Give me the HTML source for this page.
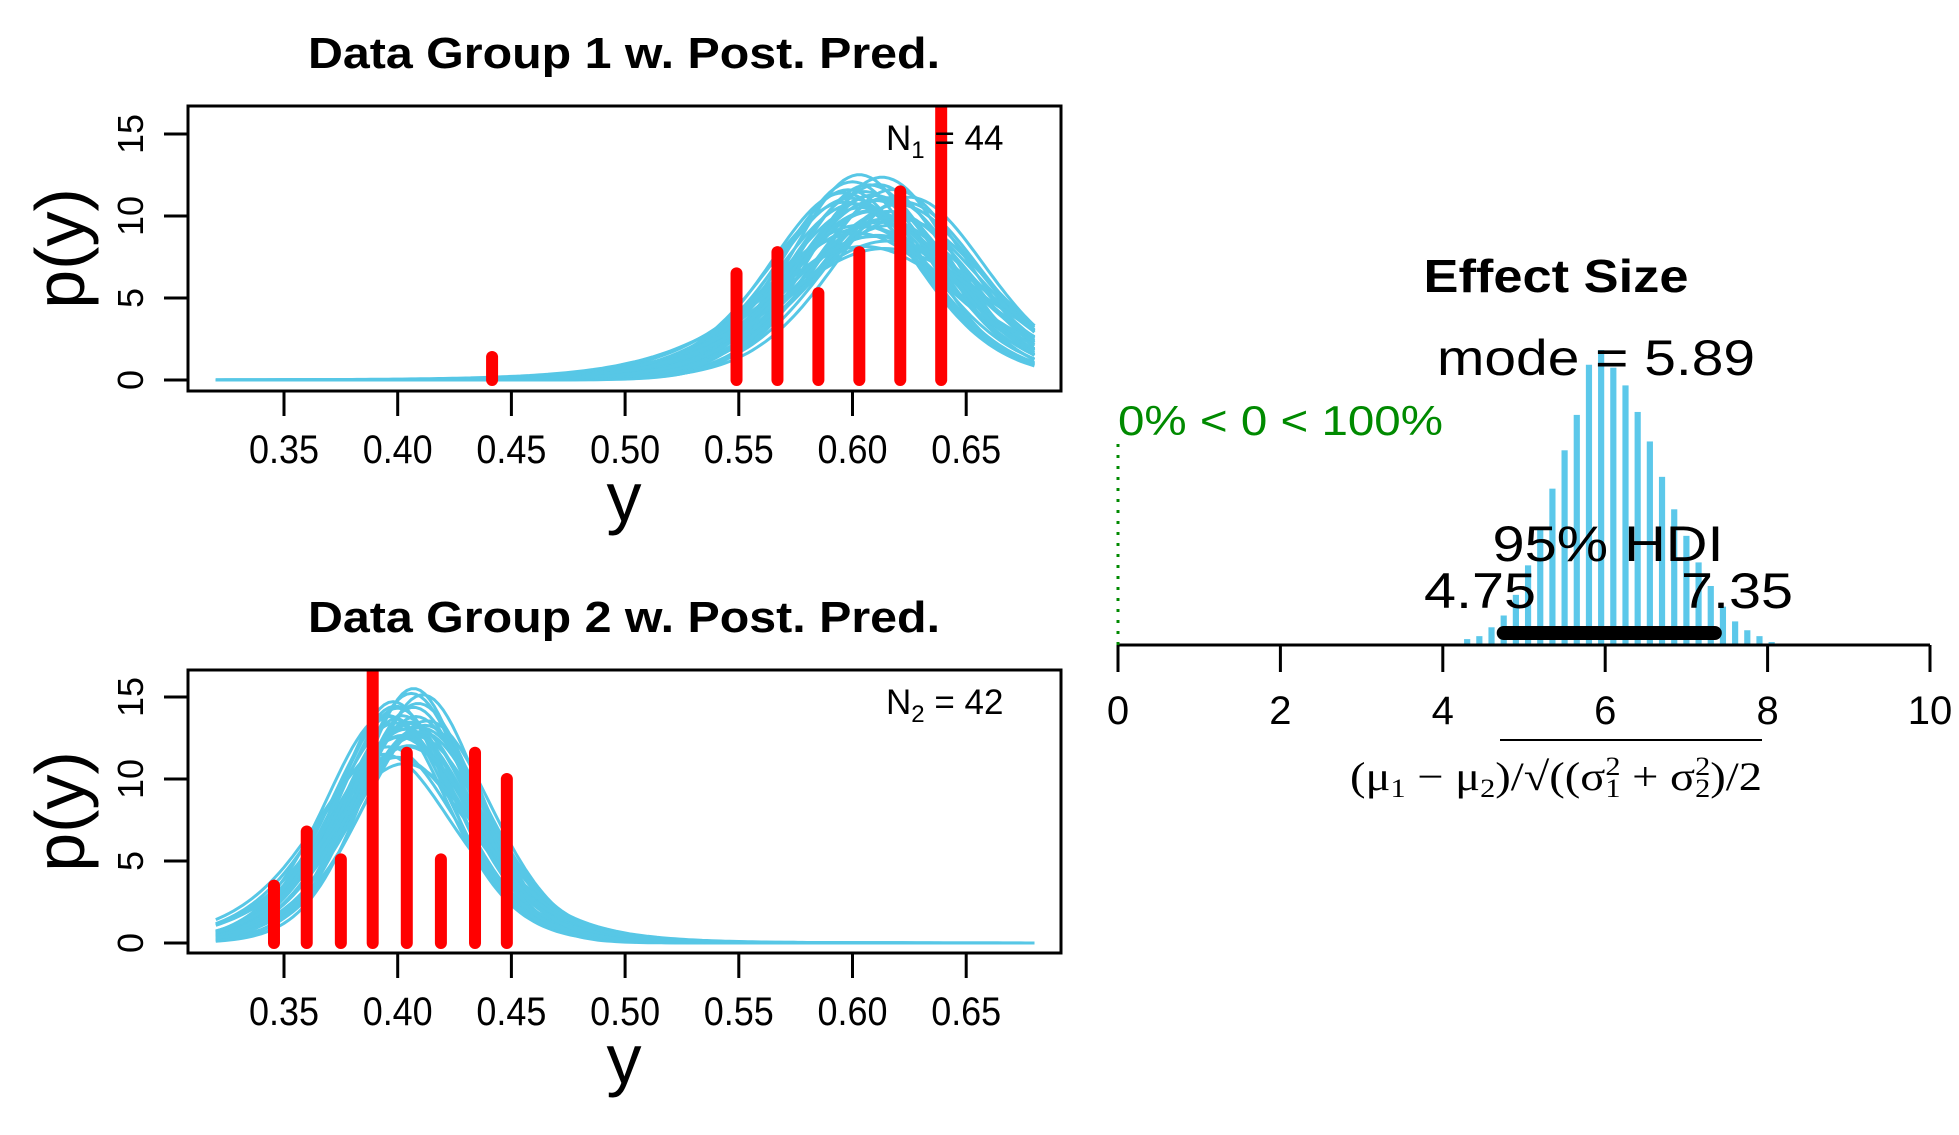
<!DOCTYPE html>
<html><head><meta charset="utf-8"><style>
html,body{margin:0;padding:0;background:#fff;}
svg{display:block;}
text{font-family:"Liberation Sans",sans-serif;fill:#000;}
</style></head><body>
<svg id="chart" width="1959" height="1135" viewBox="0 0 1959 1135" xmlns="http://www.w3.org/2000/svg">
<defs>
<clipPath id="clip1"><rect x="188" y="106" width="873" height="285"/></clipPath>
<clipPath id="clip2"><rect x="188" y="670" width="873" height="283"/></clipPath>
</defs>
<g id="p1"></g>
<g id="p2"></g>
<g id="p3"></g>
</svg>
<script>
// ---- data ----
const xTicks = [0.35,0.40,0.45,0.50,0.55,0.60,0.65];
const xTickLabels = ["0.35","0.40","0.45","0.50","0.55","0.60","0.65"];
const yTicks = [0,5,10,15];
const yTickLabels = ["0","5","10","15"];
const g1DataX = [0.4415,0.549,0.567,0.585,0.603,0.621,0.639];
const g1DataY = [1.4,6.5,7.8,5.3,7.8,11.5,17];
const g2DataX = [0.3456,0.360,0.375,0.389,0.404,0.419,0.434,0.448];
const g2DataY = [3.5,6.8,5.1,17,11.6,5.1,11.6,10];
const g1Mu = [0.600,0.605,0.610,0.598,0.615,0.620,0.603,0.608,0.612,0.618,0.625,0.601,0.606,0.611,0.596,0.614,0.609,0.604,0.622,0.617,0.607,0.613,0.599,0.616,0.610,0.602,0.619,0.605,0.611,0.597,0.614,0.621,0.608,0.603,0.616,0.609];
const g1Sd = [0.032,0.034,0.036,0.033,0.035,0.037,0.031,0.038,0.040,0.034,0.035,0.036,0.042,0.033,0.034,0.039,0.035,0.037,0.036,0.041,0.033,0.032,0.035,0.038,0.045,0.043,0.039,0.047,0.044,0.036,0.048,0.040,0.037,0.041,0.046,0.034];
const g1Nu = [8,12,20,6,10,30,9,15,7,25,11,8,14,18,9,6,22,10,13,8,16,30,9,12,20,7,10,6,9,12,7,15,5,8,11,6];
const g2Mu = [0.400,0.405,0.398,0.410,0.395,0.407,0.402,0.412,0.404,0.399,0.408,0.403,0.396,0.411,0.406,0.401,0.409,0.397,0.404,0.413,0.400,0.406,0.402,0.408,0.394,0.403,0.410,0.399,0.405,0.407];
const g2Sd = [0.027,0.029,0.026,0.030,0.028,0.025,0.031,0.029,0.033,0.027,0.028,0.030,0.032,0.026,0.029,0.031,0.027,0.028,0.030,0.029,0.034,0.026,0.028,0.031,0.033,0.035,0.030,0.029,0.032,0.027];
const g2Nu = [8,12,6,20,10,9,15,7,25,11,8,14,6,18,9,10,22,8,13,16,7,30,9,12,5,6,8,10,7,9];
const effBins = [4.30,4.45,4.60,4.75,4.90,5.05,5.20,5.35,5.50,5.65,5.80,5.95,6.10,6.25,6.40,6.55,6.70,6.85,7.00,7.15,7.30,7.45,7.60,7.75,7.90,8.05];
const effHeights = [0.02,0.03,0.06,0.10,0.17,0.27,0.40,0.53,0.66,0.78,0.95,1.0,0.94,0.88,0.79,0.69,0.57,0.46,0.37,0.28,0.20,0.13,0.08,0.05,0.03,0.01];
const effTicks = [0,2,4,6,8,10];
const effTickLabels = ["0","2","4","6","8","10"];
const hdiLow = 4.75, hdiHigh = 7.35, modeVal = 5.89;

const NS = "http://www.w3.org/2000/svg";
function mk(tag, attrs, parent, txt){
  const e = document.createElementNS(NS, tag);
  for (const k in attrs) e.setAttribute(k, attrs[k]);
  if (txt !== undefined) e.textContent = txt;
  parent.appendChild(e);
  return e;
}
function tpdf(x, mu, s, nu){
  const z = (x-mu)/s;
  return Math.pow(1 + z*z/nu, -(nu+1)/2);
}
function tnorm(s, nu){
  let sum = 0; const h = 0.01;
  for (let z=-60; z<=60; z+=h) sum += Math.pow(1+z*z/nu, -(nu+1)/2)*h;
  return 1/(sum*s);
}

function panel(gid, top, bottom, zeroY, title, titleY, mus, sds, nus, dx, dy, nLabel, nSub, clipId){
  const g = document.getElementById(gid);
  const left = 188, right = 1061;
  const X = v => 284 + (v-0.35)/0.05*113.7;
  const Y = v => zeroY - v*16.4;
  let t = mk('text',{x:624,y:titleY,'text-anchor':'middle','font-size':44,'font-weight':'bold',textLength:632,lengthAdjust:'spacingAndGlyphs'},g,title);
  
  
  const cg = mk('g',{'clip-path':'url(#'+clipId+')'},g);
  
  
  for (let i=0;i<mus.length;i++){
    const c = tnorm(sds[i], nus[i]);
    let d = '';
    for (let k=0;k<=180;k++){
      const x = 0.32 + k*0.002;
      d += (k?'L':'M') + X(x).toFixed(1) + ',' + Y(c*tpdf(x,mus[i],sds[i],nus[i])).toFixed(1);
    }
    const p = mk('path',{d:d,fill:'none',stroke:'#57c7e6','stroke-width':3},cg);
    
    
  }
  for (let i=0;i<dx.length;i++){
    const l = mk('line',{x1:X(dx[i]),x2:X(dx[i]),y1:Y(0),y2:Y(dy[i]),stroke:'#ff0000','stroke-width':12,'stroke-linecap':'round'},cg);
    
    
  }
  const box = mk('rect',{x:left,y:top,width:right-left,height:bottom-top,fill:'none',stroke:'#000','stroke-width':3},g);
  
  
  for (let i=0;i<xTicks.length;i++){
    const x = X(xTicks[i]);
    const tk = mk('line',{x1:x,x2:x,y1:bottom,y2:bottom+25,stroke:'#000','stroke-width':3},g);
    
    
    const tl = mk('text',{x:x,y:bottom+72,'text-anchor':'middle','font-size':40,textLength:70,lengthAdjust:'spacingAndGlyphs'},g,xTickLabels[i]);
    
    
  }
  for (let i=0;i<yTicks.length;i++){
    const y = Y(yTicks[i]);
    const tk = mk('line',{x1:left-24,x2:left,y1:y,y2:y,stroke:'#000','stroke-width':3},g);
    
    
    const tl = mk('text',{x:0,y:0,'text-anchor':'middle','font-size':36,transform:'translate(143,'+y+') rotate(-90)'},g,yTickLabels[i]);
    
    
  }
  const yl = mk('text',{x:0,y:0,'text-anchor':'middle','font-size':70,transform:'translate(84,'+((top+bottom)/2)+') rotate(-90)'},g,'p(y)');
  
  
  const xl = mk('text',{x:624,y:bottom+130,'text-anchor':'middle','font-size':70},g,'y');
  
  
  const nl = mk('text',{x:886,y:top+44,'font-size':35},g);
  
  
  mk('tspan',{},nl,'N');
  mk('tspan',{dy:8,'font-size':24},nl,nSub);
  mk('tspan',{dy:-8},nl,' = '+nLabel);
}
panel('p1',106,391,380,'Data Group 1 w. Post. Pred.',68,g1Mu,g1Sd,g1Nu,g1DataX,g1DataY,'44','1','clip1');
panel('p2',670,953,943,'Data Group 2 w. Post. Pred.',632,g2Mu,g2Sd,g2Nu,g2DataX,g2DataY,'42','2','clip2');

// effect size panel
(function(){
  const g = document.getElementById('p3');
  const X = v => 1118 + v*81.2;
  const base = 645, peakH = 295;
  const Y = h => base - h*peakH;
  const bw = 0.15;
  for (let i=0;i<effBins.length;i++){
    const x0 = X(effBins[i]-bw/2), x1 = X(effBins[i]+bw/2);
    const r = mk('rect',{x:x0+3,y:Y(effHeights[i]),width:x1-x0-6,height:base-Y(effHeights[i]),fill:'#5cc8ea'},g);
    
    
  }
  const ax = mk('line',{x1:X(0),x2:X(10),y1:base,y2:base,stroke:'#000','stroke-width':3},g);
  
  
  for (let i=0;i<effTicks.length;i++){
    const x = X(effTicks[i]);
    const tk = mk('line',{x1:x,x2:x,y1:base,y2:base+27,stroke:'#000','stroke-width':3},g);
    
    
    const tl = mk('text',{x:x,y:base+79,'text-anchor':'middle','font-size':40},g,effTickLabels[i]);
    
    
  }
  const hdi = mk('line',{x1:X(hdiLow),x2:X(hdiHigh),y1:633,y2:633,stroke:'#000','stroke-width':14,'stroke-linecap':'round'},g);
  
  
  const zl = mk('line',{x1:X(0),x2:X(0),y1:444,y2:base,stroke:'#008a00','stroke-width':3,'stroke-dasharray':'3,8'},g);
  
  
  const tt = mk('text',{x:1556,y:292,'text-anchor':'middle','font-size':46,'font-weight':'bold',textLength:265,lengthAdjust:'spacingAndGlyphs'},g,'Effect Size');
  
  
  const mt = mk('text',{x:1596,y:375,'text-anchor':'middle','font-size':50,textLength:318,lengthAdjust:'spacingAndGlyphs'},g,'mode = '+modeVal.toFixed(2));
  
  
  const gt = mk('text',{x:1118,y:435,'font-size':42,fill:'#008a00',textLength:325,lengthAdjust:'spacingAndGlyphs'},g,'0% < 0 < 100%');
  gt.style.fill = '#008a00';
  
  
  const ht = mk('text',{x:1608,y:561,'text-anchor':'middle','font-size':50,textLength:231,lengthAdjust:'spacingAndGlyphs'},g,'95% HDI');
  
  
  const lo = mk('text',{x:1480,y:608,'text-anchor':'middle','font-size':50,textLength:112,lengthAdjust:'spacingAndGlyphs'},g,hdiLow.toFixed(2));
  
  
  const hi = mk('text',{x:1737,y:608,'text-anchor':'middle','font-size':50,textLength:112,lengthAdjust:'spacingAndGlyphs'},g,hdiHigh.toFixed(2));
  
  
  const al = mk('text',{x:1350,y:790,'font-size':40,textLength:412,lengthAdjust:'spacingAndGlyphs'},g);
  al.style.fontFamily = '"Liberation Serif",serif';
  
  
  mk('tspan',{},al,'(μ');
  mk('tspan',{dy:7,'font-size':26},al,'1');
  mk('tspan',{dy:-7},al,' − μ');
  mk('tspan',{dy:7,'font-size':26},al,'2');
  mk('tspan',{dy:-7},al,')/√((σ');
  mk('tspan',{dy:7,'font-size':26},al,'1');
  mk('tspan',{dx:-13,dy:-22,'font-size':26},al,'2');
  mk('tspan',{dy:15},al,' + σ');
  mk('tspan',{dy:7,'font-size':26},al,'2');
  mk('tspan',{dx:-13,dy:-22,'font-size':26},al,'2');
  mk('tspan',{dy:15},al,')/2');
  const ov = mk('line',{x1:1500,x2:1762,y1:740,y2:740,stroke:'#000','stroke-width':2},g);
  
  
})();
</script>
</body></html>
